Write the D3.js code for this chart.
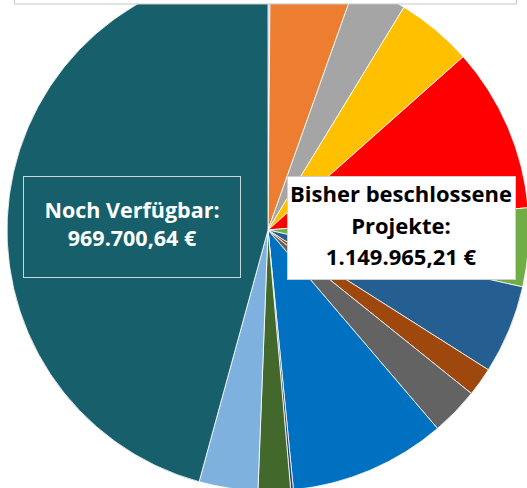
<!DOCTYPE html>
<html>
<head>
<meta charset="utf-8">
<script src="https://cdn.jsdelivr.net/npm/d3@7"></script>
<style>
  body { margin: 0; background: #fff; }
  svg { display: block; }
</style>
</head>
<body>
<svg width="527" height="488"></svg>
<script>
// slices, clockwise from 12 o'clock (Excel order)
const sliceNames = [
  'Projekt 1', 'Projekt 2', 'Projekt 3', 'Projekt 4', 'Projekt 5', 'Projekt 6',
  'Projekt 7', 'Projekt 8', 'Projekt 9', 'Projekt 10', 'Projekt 11', 'Projekt 12',
  'Projekt 13', 'Noch Verfügbar'
];
const sliceValues = [
  2944, 112460, 69478, 100095, 216088, 103039,
  116582, 37683, 63001, 205537, 3533, 42393,
  77132, 969700.64
];
const sliceColors = [
  '#7fb1de', '#ed7d31', '#a5a5a5', '#ffc000', '#ff0000', '#70ad47',
  '#255e91', '#9e480e', '#636363', '#0070c0', '#264478', '#43682b',
  '#7fb1de', '#175f6a'
];

// text of the two call-out boxes
const freeLabel = ['Noch Verfügbar:', '969.700,64 €'];
const usedLabel = ['Bisher beschlossene', 'Projekte:', '1.149.965,21 €'];

const svg = d3.select('svg');
const cx = 268, cy = 230, radius = 261;

const data = sliceNames.map((name, i) => ({name: name, value: sliceValues[i], color: sliceColors[i]}));

const pie = d3.pie().sort(null).value(d => d.value);
const arc = d3.arc().innerRadius(0).outerRadius(radius);

const g = svg.append('g').attr('transform', `translate(${cx},${cy})`);

g.selectAll('path')
  .data(pie(data))
  .join('path')
  .attr('d', arc)
  .attr('fill', d => d.data.color)
  .attr('stroke', '#ffffff')
  .attr('stroke-opacity', 0.8)
  .attr('stroke-width', 1);

// title box at the top (mostly cut off)
svg.append('rect')
  .attr('x', 14.5).attr('y', -20)
  .attr('width', 502).attr('height', 24)
  .attr('fill', '#fff')
  .attr('stroke', '#c8c8c8')
  .attr('stroke-width', 1);

// left label: still available
svg.append('rect')
  .attr('x', 23.5).attr('y', 176.5)
  .attr('width', 217).attr('height', 101)
  .attr('fill', 'none')
  .attr('stroke', '#c9d6d8')
  .attr('stroke-width', 1);

svg.append('g').selectAll('text')
  .data(freeLabel)
  .join('text')
  .attr('x', 132)
  .attr('y', (d, i) => 218 + i * 28)
  .attr('text-anchor', 'middle')
  .attr('font-family', '"Open Sans", sans-serif')
  .attr('font-weight', 'bold')
  .attr('font-size', 21.5)
  .attr('fill', '#ffffff')
  .text(d => d);

// right label: already decided projects
svg.append('rect')
  .attr('x', 287.5).attr('y', 176.5)
  .attr('width', 228).attr('height', 103)
  .attr('fill', '#ffffff')
  .attr('stroke', '#d0d0d0')
  .attr('stroke-width', 1);

svg.append('g').selectAll('text')
  .data(usedLabel)
  .join('text')
  .attr('x', 401)
  .attr('y', (d, i) => 202 + i * 31.5)
  .attr('text-anchor', 'middle')
  .attr('font-family', '"Open Sans", sans-serif')
  .attr('font-weight', 'bold')
  .attr('font-size', 22)
  .attr('fill', '#000000')
  .text(d => d);
</script>
</body>
</html>
